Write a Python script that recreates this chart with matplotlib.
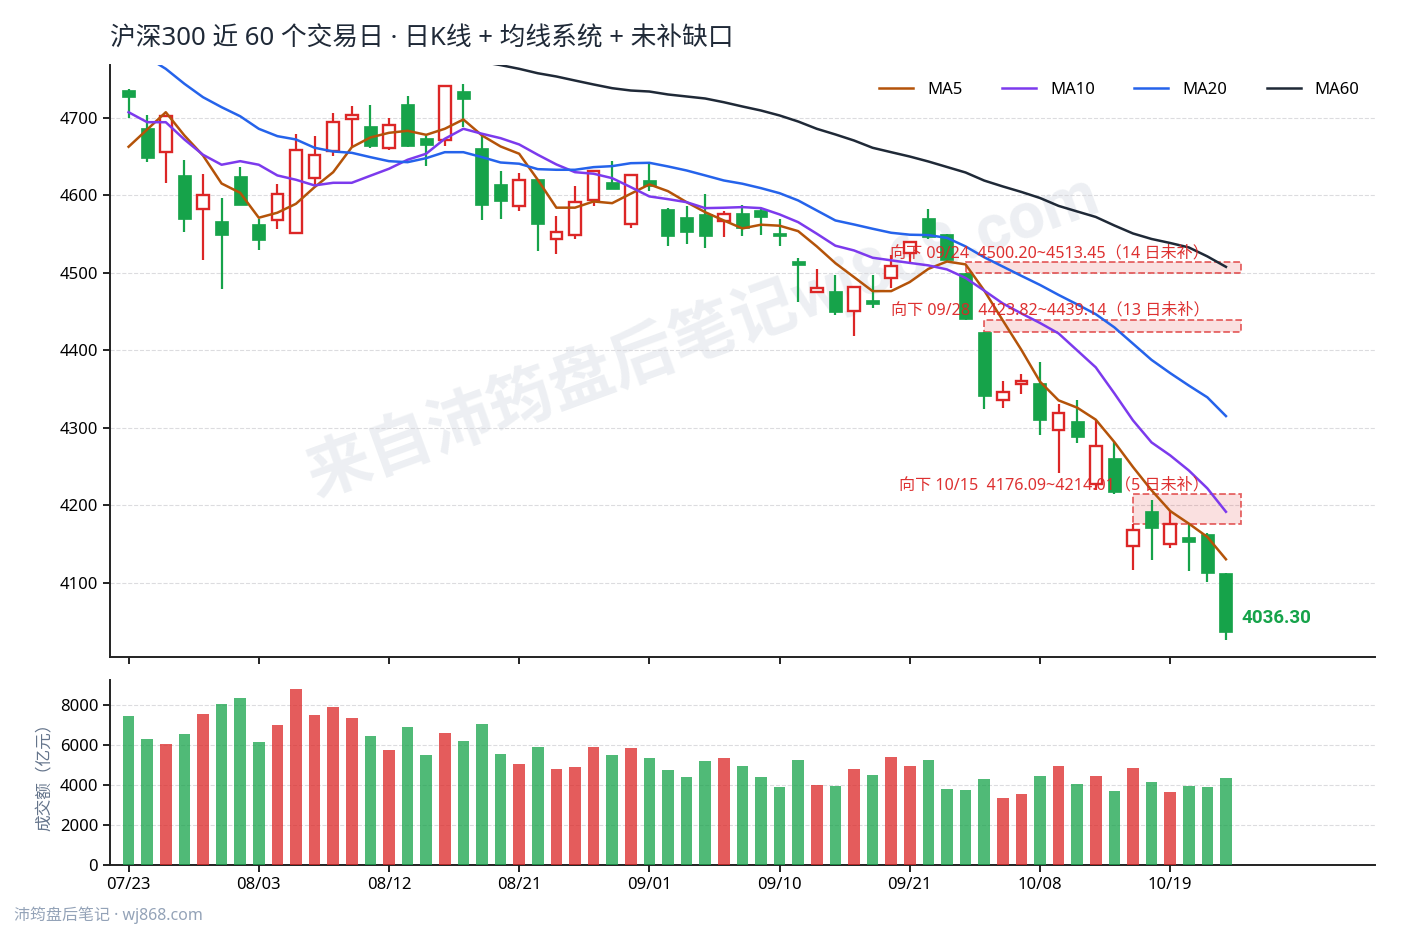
import matplotlib
matplotlib.use('Agg')
import matplotlib.pyplot as plt
from matplotlib.patches import Rectangle
import numpy as np

plt.rcParams['font.family'] = ['Noto Sans', 'Noto Sans CJK SC', 'DejaVu Sans']
plt.rcParams['axes.unicode_minus'] = False

# ---- data ----
dates = ['07/23', '07/24', '07/27', '07/28', '07/29', '07/30', '07/31', '08/03', '08/04', '08/05',
         '08/06', '08/07', '08/10', '08/11', '08/12', '08/13', '08/14', '08/17', '08/18', '08/19',
         '08/20', '08/21', '08/24', '08/25', '08/26', '08/27', '08/28', '08/31', '09/01', '09/02',
         '09/03', '09/04', '09/07', '09/08', '09/09', '09/10', '09/11', '09/14', '09/15', '09/16',
         '09/17', '09/18', '09/21', '09/22', '09/23', '09/24', '09/28', '09/29', '09/30', '10/08',
         '10/09', '10/12', '10/13', '10/14', '10/15', '10/16', '10/19', '10/20', '10/21', '10/22']

opens = [4736.5, 4686.2, 4656.0, 4625.6, 4581.7, 4567.0, 4625.2, 4563.3, 4567.5, 4550.7,
         4622.1, 4656.9, 4698.7, 4689.7, 4660.4, 4718.0, 4674.2, 4671.6, 4734.8, 4661.3,
         4614.0, 4585.6, 4621.3, 4543.0, 4549.0, 4594.2, 4616.5, 4562.4, 4620.0, 4582.6,
         4572.3, 4576.2, 4567.1, 4577.5, 4580.4, 4551.6, 4515.5, 4474.6, 4475.9, 4450.1,
         4465.2, 4493.1, 4525.9, 4571.0, 4549.4, 4500.20, 4423.82, 4336.4, 4356.9, 4357.2,
         4297.5, 4308.2, 4226.9, 4261.4, 4147.4, 4192.1, 4150.0, 4159.0, 4163.3, 4113.0]
highs = [4737.4, 4703.9, 4703.0, 4645.8, 4626.9, 4595.9, 4635.9, 4569.7, 4614.0, 4679.4,
         4675.9, 4706.4, 4714.6, 4715.9, 4700.0, 4727.5, 4676.0, 4741.0, 4744.2, 4677.0,
         4630.7, 4629.0, 4621.5, 4573.6, 4611.4, 4632.0, 4643.6, 4626.5, 4639.8, 4583.0,
         4585.6, 4602.0, 4580.0, 4587.8, 4584.0, 4570.0, 4519.4, 4504.3, 4496.6, 4482.0,
         4496.6, 4522.4, 4540.0, 4582.6, 4550.5, 4500.20, 4423.82, 4359.8, 4368.9, 4384.3,
         4331.0, 4335.3, 4310.4, 4281.5, 4176.09, 4207.2, 4193.4, 4176.3, 4163.5, 4113.0]
lows = [4700.0, 4642.7, 4616.0, 4552.4, 4516.3, 4478.9, 4587.8, 4529.2, 4556.3, 4550.7,
        4611.4, 4650.5, 4662.0, 4660.8, 4658.2, 4662.0, 4637.4, 4663.4, 4687.9, 4567.9,
        4568.8, 4579.5, 4527.9, 4524.0, 4543.4, 4586.5, 4607.9, 4558.1, 4604.9, 4534.0,
        4536.9, 4531.8, 4546.0, 4547.3, 4548.6, 4534.0, 4462.1, 4474.6, 4445.4, 4418.3,
        4454.9, 4480.7, 4512.9, 4544.0, 4513.45, 4439.14, 4323.7, 4325.9, 4343.0, 4290.2,
        4241.5, 4280.0, 4219.2, 4214.01, 4116.9, 4129.8, 4145.3, 4115.0, 4101.0, 4026.0]
closes = [4726.6, 4647.9, 4702.0, 4569.2, 4600.7, 4549.0, 4587.8, 4542.6, 4601.4, 4658.7,
          4652.3, 4694.3, 4703.0, 4663.9, 4690.5, 4663.4, 4665.2, 4740.8, 4724.0, 4587.3,
          4592.4, 4619.5, 4562.7, 4552.9, 4591.1, 4631.1, 4607.9, 4626.0, 4611.4, 4547.3,
          4552.4, 4547.3, 4575.6, 4558.1, 4571.8, 4547.3, 4509.9, 4480.7, 4449.2, 4481.5,
          4459.6, 4508.2, 4539.5, 4546.0, 4515.9, 4440.0, 4340.8, 4345.9, 4359.8, 4309.9,
          4318.9, 4288.0, 4276.4, 4216.6, 4167.6, 4171.1, 4176.3, 4153.0, 4113.0, 4036.30]

volumes = [7450, 6300, 6050, 6550, 7550, 8050, 8350, 6150, 7000, 8800,
           7500, 7900, 7350, 6450, 5750, 6900, 5500, 6600, 6200, 7050,
           5550, 5050, 5900, 4800, 4900, 5900, 5500, 5850, 5350, 4750,
           4400, 5200, 5350, 4950, 4400, 3900, 5250, 4000, 3950, 4800,
           4500, 5400, 4950, 5250, 3800, 3750, 4300, 3350, 3550, 4450,
           4950, 4050, 4450, 3700, 4850, 4150, 3650, 3950, 3900, 4350]

ma5 = [4662.6, 4684.9, 4707.2, 4677.2, 4651.4, 4615.2, 4603.2, 4571.0, 4577.5, 4589.0,
       4610.5, 4629.8, 4662.0, 4674.6, 4680.6, 4683.2, 4678.0, 4685.8, 4697.8, 4677.2,
       4663.0, 4653.6, 4620.0, 4584.0, 4584.0, 4592.0, 4589.8, 4602.0, 4614.0, 4605.3,
       4591.1, 4578.2, 4567.5, 4557.2, 4562.0, 4560.7, 4553.7, 4534.0, 4512.4, 4494.4,
       4476.3, 4476.3, 4488.0, 4505.0, 4514.5, 4510.8, 4477.2, 4438.5, 4400.5, 4359.5,
       4335.3, 4325.9, 4310.4, 4281.5, 4249.3, 4219.2, 4192.5, 4176.3, 4159.0, 4130.2]
ma10 = [4707.2, 4694.3, 4694.3, 4672.0, 4652.3, 4639.4, 4644.0, 4639.4, 4625.6, 4620.0,
        4612.7, 4616.1, 4616.1, 4625.2, 4634.2, 4645.8, 4653.6, 4672.9, 4685.8, 4679.4,
        4673.7, 4665.6, 4652.3, 4639.8, 4629.8, 4627.8, 4622.1, 4610.5, 4598.5, 4595.0,
        4591.1, 4583.4, 4583.9, 4584.7, 4583.4, 4575.3, 4565.3, 4550.4, 4534.9, 4528.8,
        4519.4, 4516.0, 4512.7, 4509.5, 4504.3, 4493.3, 4477.0, 4460.4, 4447.5, 4435.2,
        4421.7, 4399.8, 4377.9, 4344.3, 4309.5, 4281.0, 4264.3, 4244.9, 4221.7, 4191.5]
ma20 = [4795.0, 4778.0, 4763.2, 4743.9, 4726.6, 4713.7, 4702.0, 4685.8, 4676.3, 4672.0,
        4661.3, 4656.5, 4654.8, 4649.2, 4644.0, 4642.7, 4647.9, 4655.6, 4655.6, 4649.2,
        4642.3, 4640.7, 4633.7, 4632.9, 4632.9, 4636.3, 4637.6, 4641.4, 4641.9, 4637.2,
        4632.0, 4625.6, 4619.1, 4614.9, 4609.2, 4602.7, 4593.3, 4580.4, 4567.5, 4562.3,
        4556.8, 4551.6, 4549.1, 4548.6, 4545.0, 4534.0, 4520.0, 4508.0, 4496.0, 4484.3,
        4471.4, 4459.2, 4446.5, 4429.5, 4408.5, 4387.5, 4370.5, 4354.5, 4339.2, 4315.0]
ma60 = [4802.0, 4801.0, 4800.0, 4799.0, 4798.0, 4797.0, 4796.0, 4795.0, 4794.0, 4793.0,
        4791.0, 4789.0, 4787.0, 4785.0, 4783.0, 4781.0, 4779.0, 4777.0, 4775.0, 4772.0,
        4768.0, 4763.2, 4757.5, 4753.3, 4748.1, 4743.0, 4738.2, 4735.2, 4733.9, 4730.1,
        4727.5, 4724.9, 4720.1, 4714.6, 4709.4, 4703.0, 4695.2, 4685.8, 4678.5, 4670.7,
        4661.3, 4655.6, 4650.0, 4643.6, 4636.5, 4629.4, 4619.0, 4611.4, 4604.3, 4596.5,
        4586.3, 4579.1, 4572.0, 4561.0, 4550.7, 4543.6, 4538.4, 4532.7, 4521.1, 4507.6]

gap_dates = ['09/24', '09/28', '10/15']
gap_lows = [4500.20, 4423.82, 4176.09]
gap_highs = [4513.45, 4439.14, 4214.01]

UP = '#dc2626'
DOWN = '#16a34a'
MA_COLORS = {'MA5': '#b45309', 'MA10': '#7c3aed', 'MA20': '#2563eb', 'MA60': '#1f2937'}

n = len(dates)
x = np.arange(n)

fig = plt.figure(figsize=(14.1, 9.3), dpi=100)
ax = fig.add_axes([0.078, 0.2935, 0.897, 0.6365])
axv = fig.add_axes([0.078, 0.0699, 0.897, 0.1989], sharex=ax)

# watermark behind everything
ax.text(0.468, 0.545, '来自沛筠盘后笔记wj868.com', transform=ax.transAxes, rotation=20,
        ha='center', va='center', fontsize=46.5, fontweight='bold', color='#94a3b8',
        alpha=0.17, zorder=0, family=['Roboto', 'Noto Sans CJK SC'])

# candles
w = 0.7
for i in x:
    o, h, l, c = opens[i], highs[i], lows[i], closes[i]
    up = c >= o
    col = UP if up else DOWN
    ax.vlines(i, l, h, color=col, lw=1.6, zorder=3)
    body = max(abs(c - o), 0.8)
    if up:
        ax.add_patch(Rectangle((i - w / 2 + 0.04, min(o, c)), w - 0.08, body, facecolor='white',
                               edgecolor=col, lw=1.7, zorder=4))
    else:
        ax.add_patch(Rectangle((i - w / 2, min(o, c)), w, body, facecolor=col,
                               edgecolor=col, lw=0.5, zorder=4))

# moving averages
for name, vals in [('MA5', ma5), ('MA10', ma10), ('MA20', ma20), ('MA60', ma60)]:
    ax.plot(x, vals, color=MA_COLORS[name], lw=1.8, label=name, zorder=5)

# unfilled gaps
for d, lo, hi in zip(gap_dates, gap_lows, gap_highs):
    i = dates.index(d)
    ax.add_patch(Rectangle((i, lo), n - 0.2 - i, hi - lo, facecolor=UP, alpha=0.14,
                           edgecolor='none', zorder=2))
    ax.add_patch(Rectangle((i, lo), n - 0.2 - i, hi - lo, fill=False, edgecolor=UP,
                           ls='--', lw=1.3, alpha=0.7, zorder=2))
    ax.text(n - 1.9, hi + 1.5, f'向下 {d}  {lo:.2f}~{hi:.2f}（{n - 1 - i} 日未补）',
            ha='right', va='bottom', color=UP, fontsize=11.6, alpha=0.95, zorder=6)

# last close
ax.text(n - 0.15, closes[-1] + 6, f'{closes[-1]:.2f}', color=DOWN, fontsize=13.5,
        fontweight='bold', va='bottom', ha='left', zorder=6, family=['Roboto', 'DejaVu Sans'])

ax.set_xlim(-1, 67)
ax.set_ylim(4004, 4768)
ax.set_yticks(range(4100, 4701, 100))
ax.grid(axis='y', ls='--', color='#d4d4d8', lw=0.8, alpha=0.8)
ax.set_axisbelow(True)
for s in ['top', 'right']:
    ax.spines[s].set_visible(False)
for s in ['left', 'bottom']:
    ax.spines[s].set_color('#222222')
    ax.spines[s].set_linewidth(1.4)
ax.tick_params(axis='x', labelbottom=False, length=5, width=1.4, color='#222222')
ax.tick_params(axis='y', labelsize=12, length=5, width=1.4, color='#222222')
ax.legend(loc='upper right', ncol=4, frameon=False, fontsize=12, handlelength=2.05,
          handletextpad=0.85, columnspacing=2.35, bbox_to_anchor=(1.0, 0.997))

# volume
vcols = [UP if closes[i] >= opens[i] else DOWN for i in x]
axv.bar(x, volumes, width=0.62, color=vcols, alpha=0.75, zorder=3)
axv.set_ylim(0, 9250)
axv.set_yticks([0, 2000, 4000, 6000, 8000])
axv.set_xticks(x[::7])
axv.set_xticklabels([dates[i] for i in x[::7]])
axv.grid(axis='y', ls='--', color='#d4d4d8', lw=0.8, alpha=0.8)
axv.set_axisbelow(True)
for s in ['top', 'right']:
    axv.spines[s].set_visible(False)
for s in ['left', 'bottom']:
    axv.spines[s].set_color('#222222')
    axv.spines[s].set_linewidth(1.4)
axv.tick_params(labelsize=12, length=5, width=1.4, color='#222222')
axv.set_ylabel('成交额（亿元）', color='#64748b', fontsize=12)

fig.text(0.078, 0.958, '沪深300 近 60 个交易日 · 日K线 + 均线系统 + 未补缺口',
         fontsize=18.5, color='#1f2937', va='center', ha='left')
fig.text(0.01, 0.011, '沛筠盘后笔记 · wj868.com', fontsize=11.5, color='#94a3b8')

fig.savefig('out.png', dpi=100)
